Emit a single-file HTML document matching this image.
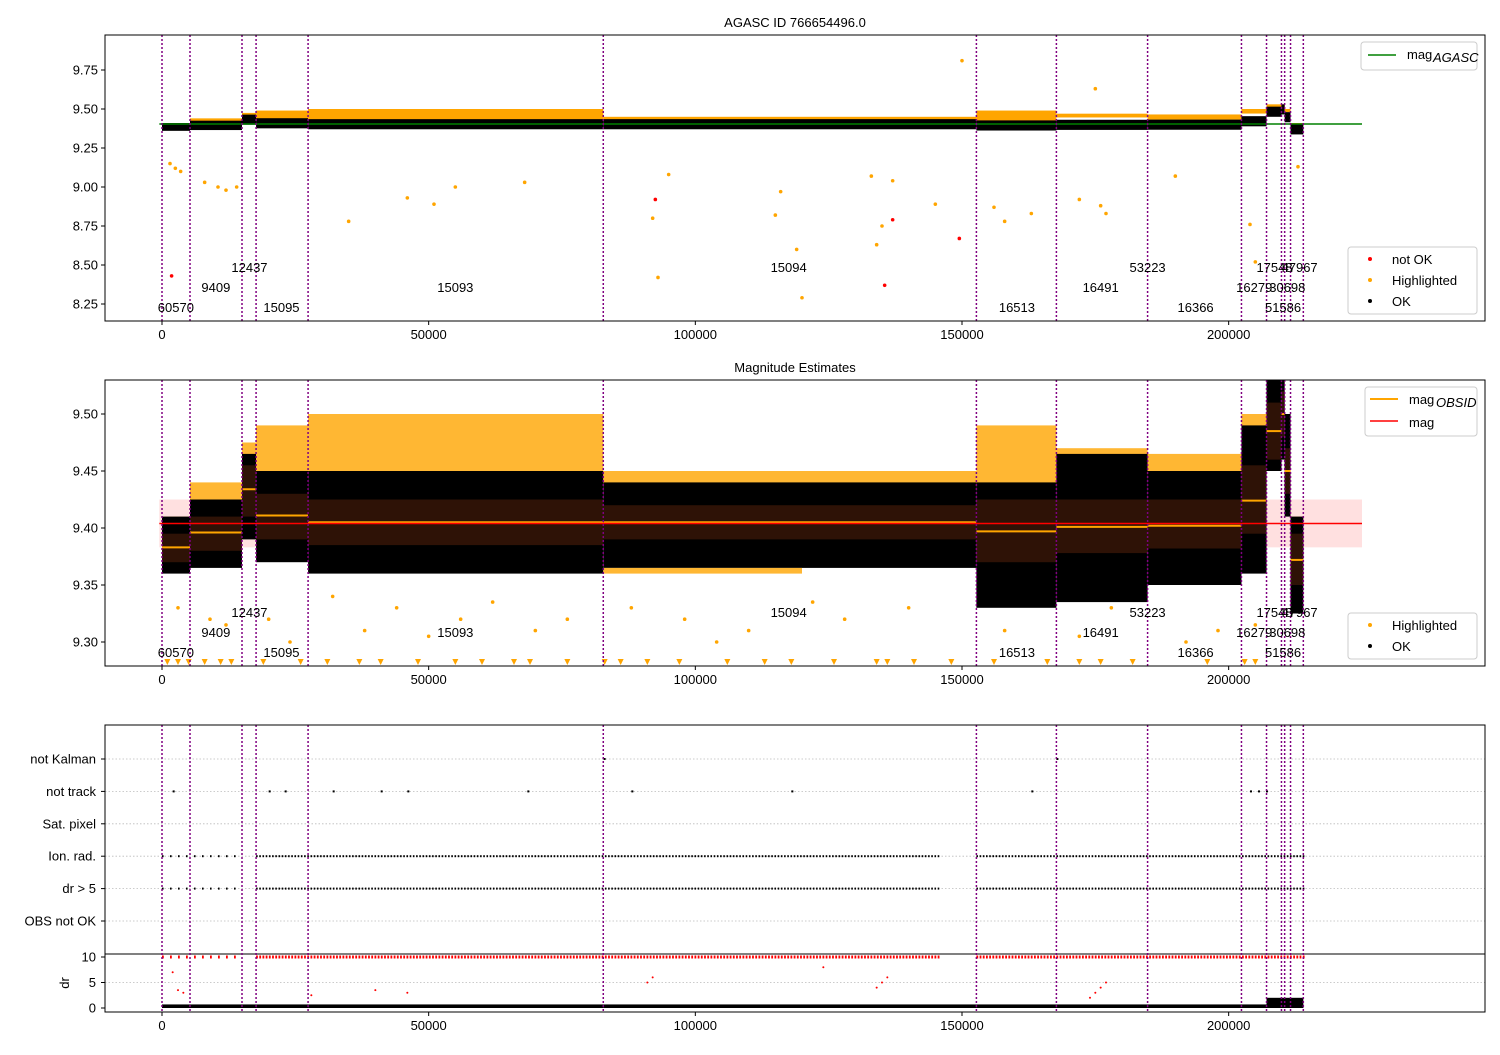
<!DOCTYPE html>
<html><head><meta charset="utf-8"><style>
body{margin:0;background:#fff;font-family:"Liberation Sans","DejaVu Sans",sans-serif}
svg text{font-family:"Liberation Sans","DejaVu Sans",sans-serif;font-size:13px;fill:#000}
</style></head><body>
<svg id="chart" width="1500" height="1050" xmlns="http://www.w3.org/2000/svg">
<defs>
<clipPath id="c1"><rect x="105" y="35" width="1380" height="286"/></clipPath>
<clipPath id="c2"><rect x="105" y="380" width="1380" height="286"/></clipPath>
<clipPath id="c3"><rect x="105" y="725" width="1380" height="287"/></clipPath>
</defs>
<g id="g"></g>
</svg>
<script>
// ---- data ----
const segStart=[0,5250,15000,17640,27390,82740,152700,167700,184800,202400,207100,209900,210500,211600];
const segEnd=[5250,15000,17640,27390,82740,152700,167700,184800,202400,207100,209900,210500,211600,214000];
const segMag=[9.383,9.396,9.434,9.411,9.405,9.405,9.397,9.401,9.402,9.424,9.485,9.50,9.45,9.372];
const segOkLo=[9.36,9.365,9.39,9.37,9.36,9.365,9.33,9.335,9.35,9.36,9.45,9.46,9.41,9.325];
const segOkHi=[9.41,9.425,9.465,9.45,9.45,9.44,9.44,9.465,9.45,9.49,9.53,9.53,9.50,9.41];
const segHlHi=[9.41,9.44,9.475,9.49,9.50,9.45,9.49,9.47,9.465,9.50,9.53,9.53,9.50,9.41];
const segStdLo=[9.37,9.38,9.41,9.39,9.385,9.39,9.37,9.378,9.382,9.395,9.46,9.48,9.43,9.35];
const segStdHi=[9.395,9.41,9.455,9.43,9.425,9.42,9.425,9.425,9.425,9.455,9.51,9.52,9.47,9.395];
const obsLines=[0,5250,15000,17640,27390,82740,152700,167700,184800,202400,207100,209900,210500,211600,214000];
const obsLabels=["60570","9409","12437","15095","15093","15094","16513","16491","53223","16366","16279","17548","47967","51586","30698"];
const obsLabelX=[2600,10100,16400,22400,55000,117500,160300,176000,184800,193800,204800,208600,213300,210200,211000];
const obsLabelRow=[2,1,0,2,1,0,2,1,0,2,1,0,0,2,1];
const magAgasc=9.404, magMean=9.404, magStd=0.021;
const hlX=[1500,2500,3500,8000,10500,12000,14000,35000,46000,51000,55000,68000,92000,93000,95000,115000,116000,119000,120000,133000,134000,135000,137000,145000,150000,156000,158000,163000,172000,175000,176000,177000,190000,204000,205000,213000];
const hlMag=[9.15,9.12,9.10,9.03,9.00,8.98,9.00,8.78,8.93,8.89,9.00,9.03,8.80,8.42,9.08,8.82,8.97,8.60,8.29,9.07,8.63,8.75,9.04,8.89,9.81,8.87,8.78,8.83,8.92,9.63,8.88,8.83,9.07,8.76,8.52,9.13];
const badX=[1800,92500,135500,137000,149500];
const badMag=[8.43,8.92,8.37,8.79,8.67];
const lowX=[3000,9000,12000,20000,24000,32000,38000,44000,50000,56000,62000,70000,76000,88000,98000,104000,110000,122000,128000,140000,158000,172000,178000,192000,198000,205000];
const lowMag=[9.33,9.32,9.315,9.32,9.30,9.34,9.31,9.33,9.305,9.32,9.335,9.31,9.32,9.33,9.32,9.30,9.31,9.335,9.32,9.33,9.31,9.305,9.33,9.30,9.31,9.315];
const triX=[1000,3000,5000,8000,11000,13000,19000,26000,31000,37000,41000,48000,55000,60000,66000,69000,76000,83000,86000,91000,97000,106000,113000,118000,126000,134000,136000,141000,148000,156000,166000,172000,176000,182000,196000,203000,205000];
const okRowStart=[0,17640,152700];
const okRowEnd=[15000,146000,214000];
const okRowStep=[1500,600,600];
const trackX=[2000,20000,23000,32000,41000,46000,68500,88000,118000,163000,204000,205500,207000];
const kalmanX=[82800,167700];
const drHighX=[2000,3000,4000,28000,40000,46000,91000,92000,124000,134000,135000,136000,174000,175000,176000,177000];
const drHighV=[7,3.5,3,2.5,3.5,3,5,6,8,4,5,6,2,3,4,5];
const xTicks=[0,50000,100000,150000,200000];
const y1Ticks=[9.75,9.50,9.25,9.00,8.75,8.50,8.25];
const y2Ticks=[9.50,9.45,9.40,9.35,9.30];
const catLabels=["not Kalman","not track","Sat. pixel","Ion. rad.","dr > 5","OBS not OK"];
const drTicks=[0,5,10];

// ---- scales ----
const X=v=>162+v*0.0053333;
const Y1=m=>109+(9.5-m)*156;
const Y2=m=>528+(9.4-m)*1140;
const catY=i=>759+i*32.4;
const DR=d=>1008-d*5.1;
const NS="http://www.w3.org/2000/svg";
const root=document.getElementById('g');
function el(tag,attrs,parent,txt){const e=document.createElementNS(NS,tag);for(const k in attrs)e.setAttribute(k,attrs[k]);if(txt!==undefined)e.textContent=txt;(parent||root).appendChild(e);return e;}
function grp(name,clip){const g=el('g',clip?{'clip-path':'url(#'+clip+')'}:{});


return g;}

const panels=[{top:35,h:286,clip:'c1'},{top:380,h:286,clip:'c2'},{top:725,h:287,clip:'c3'}];

let t=el('text',{x:795,y:27,'text-anchor':'middle','font-size':15},root,'AGASC ID 766654496.0');


t=el('text',{x:795,y:372,'text-anchor':'middle','font-size':15},root,'Magnitude Estimates');



// ---- panel 1 ----
const p1=grp('panel1-plot','c1');
for(let i=0;i<segStart.length;i++){
 el('rect',{x:X(segStart[i]),y:Y1(segHlHi[i]),width:X(segEnd[i])-X(segStart[i]),height:Math.max(0,Y1(segOkHi[i])-Y1(segHlHi[i])+3),fill:'orange'},p1);
 const r=el('rect',{x:X(segStart[i]),y:Y1(Math.min(segOkHi[i],segMag[i]+0.03)),width:X(segEnd[i])-X(segStart[i]),height:Y1(Math.max(segOkLo[i],segMag[i]-0.035))-Y1(Math.min(segOkHi[i],segMag[i]+0.03)),fill:'#000'},p1);
 
 
}
hlX.forEach((v,i)=>el('circle',{cx:X(v),cy:Y1(hlMag[i]),r:1.8,fill:'orange'},p1));
badX.forEach((v,i)=>el('circle',{cx:X(v),cy:Y1(badMag[i]),r:1.8,fill:'red'},p1));
el('line',{x1:X(-500),x2:X(225000),y1:Y1(magAgasc),y2:Y1(magAgasc),stroke:'green','stroke-width':1.5},p1);

// ---- panel 2 ----
const p2=grp('panel2-plot','c2');
el('rect',{x:X(-500),y:Y2(magMean+magStd),width:X(225000)-X(-500),height:Y2(magMean-magStd)-Y2(magMean+magStd),fill:'rgba(255,0,0,0.12)'},p2);
for(let i=0;i<segStart.length;i++){
 const x0=X(segStart[i]),w=X(segEnd[i])-X(segStart[i]);
 el('rect',{x:x0,y:Y2(segHlHi[i]),width:w,height:Math.max(0,Y2(segOkHi[i])-Y2(segHlHi[i])+4),fill:'orange','fill-opacity':0.8},p2);
 el('rect',{x:x0,y:Y2(segOkHi[i]),width:w,height:Y2(segOkLo[i])-Y2(segOkHi[i]),fill:'#000'},p2);
 el('rect',{x:x0,y:Y2(segStdHi[i]),width:w,height:Y2(segStdLo[i])-Y2(segStdHi[i]),fill:'#2e1206'},p2);
 const l=el('line',{x1:x0,x2:x0+w,y1:Y2(segMag[i]),y2:Y2(segMag[i]),stroke:'orange','stroke-width':2},p2);
 
 
}
el('rect',{x:X(82740),y:Y2(9.365),width:X(120000)-X(82740),height:Y2(9.36)-Y2(9.365),fill:'orange','fill-opacity':0.8},p2);
lowX.forEach((v,i)=>el('circle',{cx:X(v),cy:Y2(lowMag[i]),r:1.8,fill:'orange'},p2));
triX.forEach(v=>{const x=X(v);el('path',{d:`M${x-3},659 L${x+3},659 L${x},665 Z`,fill:'orange'},p2);});
el('line',{x1:X(-500),x2:X(225000),y1:Y2(magMean),y2:Y2(magMean),stroke:'red','stroke-width':1.5},p2);

// ---- panel 3 ----
const p3=grp('panel3-plot','c3');
catLabels.forEach((c,i)=>el('line',{x1:105,x2:1485,y1:catY(i),y2:catY(i),stroke:'#bbb','stroke-dasharray':'1.5,2','stroke-width':0.8},p3));
[5].forEach(d=>el('line',{x1:105,x2:1485,y1:DR(d),y2:DR(d),stroke:'#bbb','stroke-dasharray':'1.5,2','stroke-width':0.8},p3));
el('line',{x1:105,x2:1485,y1:954,y2:954,stroke:'#000','stroke-width':1},p3);
[3,4].forEach(row=>{for(let k=0;k<okRowStart.length;k++){for(let v=okRowStart[k];v<okRowEnd[k];v+=okRowStep[k])el('rect',{x:X(v),y:catY(row)-1,width:1.6,height:2,fill:'#000'},p3);}});
for(let k=0;k<okRowStart.length;k++)for(let v=okRowStart[k];v<okRowEnd[k];v+=okRowStep[k])el('rect',{x:X(v),y:DR(10)-1.5,width:1.8,height:3,fill:'red'},p3);
trackX.forEach(v=>el('rect',{x:X(v),y:catY(1)-1,width:2,height:2,fill:'#000'},p3));
kalmanX.forEach(v=>el('rect',{x:X(v),y:catY(0)-1,width:2,height:2,fill:'#000'},p3));
drHighX.forEach((v,i)=>el('circle',{cx:X(v),cy:DR(drHighV[i]),r:1,fill:'red'},p3));
for(let i=0;i<segStart.length;i++){el('rect',{x:X(segStart[i]),y:DR(0.7),width:X(segEnd[i])-X(segStart[i]),height:DR(0)-DR(0.7),fill:'#000'},p3);}
el('rect',{x:X(207100),y:DR(2),width:X(214000)-X(207100),height:DR(0)-DR(2),fill:'#000'},p3);

// ---- shared ----
panels.forEach((p,pi)=>{
 const vg=grp('obsid-lines-'+(pi+1),p.clip);
 obsLines.forEach(v=>el('line',{x1:X(v),x2:X(v),y1:p.top,y2:p.top+p.h,stroke:'purple','stroke-dasharray':'2,2','stroke-width':1.5},vg));
 if(pi<2){const lg=grp('obsid-labels-'+(pi+1));
  obsLabels.forEach((s,i)=>el('text',{x:X(obsLabelX[i]),y:p.top+237+obsLabelRow[i]*20,'text-anchor':'middle'},lg,s));}
 const fr=el('rect',{x:105,y:p.top,width:1380,height:p.h,fill:'none',stroke:'#000','stroke-width':1});
 
 
 const xg=grp('x-axis-'+(pi+1));
 xTicks.forEach(v=>{el('line',{x1:X(v),x2:X(v),y1:p.top+p.h,y2:p.top+p.h+4,stroke:'#000'},xg);el('text',{x:X(v),y:p.top+p.h+18,'text-anchor':'middle'},xg,String(v));});
});
const y1g=grp('y-axis-1');
y1Ticks.forEach(v=>{el('line',{x1:101,x2:105,y1:Y1(v),y2:Y1(v),stroke:'#000'},y1g);el('text',{x:98,y:Y1(v)+4.5,'text-anchor':'end'},y1g,v.toFixed(2));});
const y2g=grp('y-axis-2');
y2Ticks.forEach(v=>{el('line',{x1:101,x2:105,y1:Y2(v),y2:Y2(v),stroke:'#000'},y2g);el('text',{x:98,y:Y2(v)+4.5,'text-anchor':'end'},y2g,v.toFixed(2));});
const y3g=grp('y-axis-3');
catLabels.forEach((c,i)=>{el('line',{x1:101,x2:105,y1:catY(i),y2:catY(i),stroke:'#000'},y3g);el('text',{x:96,y:catY(i)+4.5,'text-anchor':'end'},y3g,c);});
drTicks.forEach(d=>{el('line',{x1:101,x2:105,y1:DR(d),y2:DR(d),stroke:'#000'},y3g);el('text',{x:96,y:DR(d)+4.5,'text-anchor':'end'},y3g,String(d));});
el('text',{x:69,y:983,'text-anchor':'middle',transform:'rotate(-90 69 983)'},y3g,'dr');

// ---- legends ----
function legendBox(x,y,w,h,name){const g=grp(name);el('rect',{x:x,y:y,width:w,height:h,fill:'#fff',stroke:'#ccc',rx:3},g);return g;}
let L=legendBox(1361,42,116,28,'legend-agasc');
el('line',{x1:1368,x2:1396,y1:55,y2:55,stroke:'green','stroke-width':1.5},L);
el('text',{x:1407,y:59},L,'mag');el('text',{x:1433,y:62,'font-size':9,'font-style':'italic'},L,'AGASC');
L=legendBox(1348,247,129,67,'legend-status-1');
[['red','not OK'],['orange','Highlighted'],['#000','OK']].forEach((c,i)=>{el('circle',{cx:1370,cy:259+i*21,r:2,fill:c[0]},L);el('text',{x:1392,y:264+i*21},L,c[1]);});
L=legendBox(1365,387,112,49,'legend-mag');
el('line',{x1:1370,x2:1398,y1:399,y2:399,stroke:'orange','stroke-width':2},L);
el('text',{x:1409,y:404},L,'mag');el('text',{x:1436,y:407,'font-size':9,'font-style':'italic'},L,'OBSID');
el('line',{x1:1370,x2:1398,y1:421,y2:421,stroke:'red','stroke-width':1.5},L);
el('text',{x:1409,y:427},L,'mag');
L=legendBox(1348,613,129,46,'legend-status-2');
[['orange','Highlighted'],['#000','OK']].forEach((c,i)=>{el('circle',{cx:1370,cy:625+i*21,r:2,fill:c[0]},L);el('text',{x:1392,y:630+i*21},L,c[1]);});
</script>
</body></html>
